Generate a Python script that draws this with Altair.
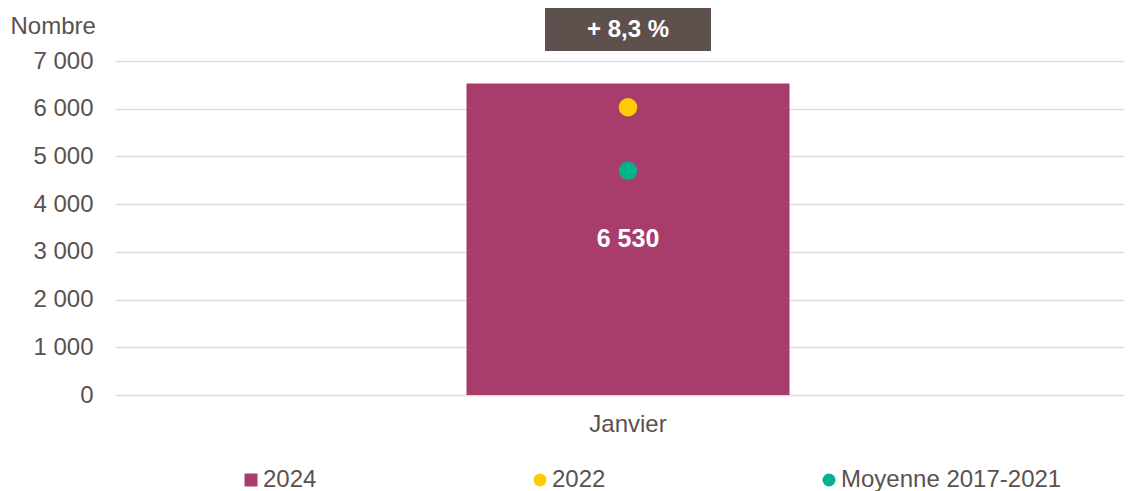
import altair as alt
import pandas as pd

months = ["Janvier"]
v2024 = [6530]
v2022 = [6030]
vmoy = [4700]
variation_labels = ["+ 8,3 %"]

series_names = ["2024", "2022", "Moyenne 2017-2021"]
series_colors = ["#A83C6A", "#FFCC00", "#00B38A"]
series_shapes = ["square", "circle", "circle"]
y_ticks = [0, 1000, 2000, 3000, 4000, 5000, 6000, 7000]

FONT = "Liberation Sans"
TXT = "#5B5150"

bars = pd.DataFrame({"month": months, "value": v2024})
bars["label"] = [f"{v:,}".replace(",", " ") for v in v2024]
bars["half"] = [v / 2 for v in v2024]
pts = pd.DataFrame({
    "month": months * 2,
    "series": ["2022"] * len(months) + ["Moyenne 2017-2021"] * len(months),
    "value": v2022 + vmoy,
})
ann = pd.DataFrame({"month": months, "label": variation_labels})

x_enc = alt.X("month:N", title=None,
              scale=alt.Scale(range=[0, 1026]),
              axis=alt.Axis(labelFontSize=24, labelColor=TXT, labelFont=FONT, grid=False,
                            domain=False, ticks=False, labelPadding=17, labelAngle=0))

bar = alt.Chart(bars).mark_bar(width=323, color="#A83C6A").encode(
    x=x_enc,
    y=alt.Y("value:Q", scale=alt.Scale(domain=[0, 7000], nice=False),
            axis=alt.Axis(values=y_ticks, format=",d", title="Nombre", titleAngle=0,
                          titleAlign="left", titleX=-105, titleY=-23, titleFontSize=24,
                          titleFontWeight="normal", titleColor=TXT, titleFont=FONT,
                          labelFontSize=24, labelColor=TXT, labelFont=FONT,
                          domain=False, ticks=False, labelPadding=22,
                          gridColor="#E0DDDD", gridWidth=1.5)),
)

bar_text = alt.Chart(bars).mark_text(color="white", fontSize=25, fontWeight="bold",
                                     font=FONT, baseline="middle").encode(
    x=alt.X("month:N"),
    y=alt.Y("half:Q"),
    text="label:N",
)

leg = alt.Legend(orient="none", legendX=124, legendY=407,
                 direction="horizontal", columns=3, gridAlign="all",
                 columnPadding=44, labelFontSize=24, labelColor=TXT, labelLimit=400,
                 labelFont=FONT, symbolSize=169, labelOffset=0,
                 title=None, padding=0, symbolStrokeWidth=0)

points = alt.Chart(pts).mark_point(filled=True, size=346, opacity=1).encode(
    x=alt.X("month:N"),
    y=alt.Y("value:Q"),
    color=alt.Color("series:N",
                    scale=alt.Scale(domain=series_names, range=series_colors),
                    legend=leg),
    shape=alt.Shape("series:N", scale=alt.Scale(domain=series_names, range=series_shapes),
                    legend=leg),
)

box = alt.Chart(ann).mark_bar(width=166, color="#5E504C").encode(
    x=alt.X("month:N"),
    y=alt.value(-53),
    y2=alt.value(-10),
)
box_text = alt.Chart(ann).mark_text(color="white", fontSize=24, fontWeight="bold",
                                    font=FONT, baseline="middle").encode(
    x=alt.X("month:N"),
    y=alt.value(-31),
    text="label:N",
)

chart = alt.layer(bar, bar_text, points, box, box_text).properties(
    width=1005, height=334,
    padding={"left": 107, "top": 53, "right": 4, "bottom": 96},
    autosize=alt.AutoSizeParams(type="none"),
).configure(
    locale={"number": {"decimal": ",", "thousands": "\u00a0", "grouping": [3],
                       "currency": ["", " €"]}},
    view={"stroke": None},
)

chart.save("out.html", embed_options={"renderer": "svg", "actions": False})
